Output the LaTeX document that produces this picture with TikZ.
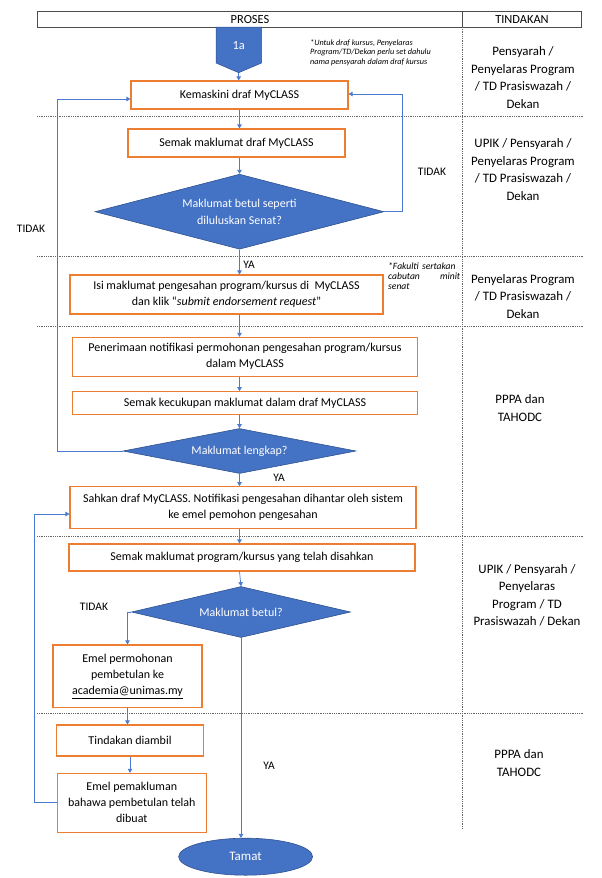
\documentclass[tikz,border=0pt]{standalone}
\usepackage{fontspec}
\setmainfont{Carlito}
\usetikzlibrary{positioning,arrows.meta,shapes.geometric,calc}
\definecolor{boxorange}{HTML}{ED7D31}
\definecolor{flowblue}{HTML}{4472C4}
\definecolor{flowdark}{HTML}{2F528F}
\definecolor{linkblue}{HTML}{4A7BD0}

\begin{document}
\begin{tikzpicture}[
  x=1pt, y=-1pt,
  proc/.style={draw=boxorange, line width=1.1pt, fill=white, align=center,
               font=\fontsize{12}{16}\selectfont, inner sep=2pt},
  dec/.style={diamond, draw=flowdark, line width=0.6pt, fill=flowblue, text=white,
              align=center, font=\fontsize{12}{16.5}\selectfont, inner sep=0pt},
  term/.style={ellipse, draw=flowdark, line width=0.6pt, fill=flowblue, text=white,
               font=\fontsize{13}{15}\selectfont},
  lbl/.style={font=\fontsize{11.5}{13}\selectfont},
  act/.style={align=center, font=\fontsize{12.9}{17.5}\selectfont},
  note/.style={font=\fontsize{8.2}{9.9}\selectfont\itshape, align=left, inner sep=0pt},
  ar/.style={-{Triangle[width=4.5pt,length=4pt]}, linkblue, line width=0.7pt},
  sep/.style={densely dotted, line width=0.8pt, black!60}
]
\useasboundingbox (0,0) rectangle (602,878);
\coordinate (col) at (239.5,0);

% table
\draw[line width=0.8pt, black!70] (37,11) rectangle (581,27);
\draw[line width=0.8pt, black!70] (462.5,11) -- (462.5,27);
\draw[sep] (462.5,27) -- (462.5,829);
\foreach \y in {116.7, 256.3, 326, 536, 713.3} \draw[sep] (37,\y) -- (584,\y);
\node[lbl, font=\fontsize{12.4}{14}\selectfont] (hproses) at (250,19.5) {PROSES};
\node[lbl, font=\fontsize{12.4}{14}\selectfont] (htindakan) at (522,19.5) {TINDAKAN};

% start connector
\fill[flowblue, draw=flowdark, line width=0.5pt] (216,27) -- (261.5,27) -- (261.5,63) -- (238.7,72.7) -- (216,63) -- cycle;
\node[lbl, text=white, font=\fontsize{12.4}{14}\selectfont] (start) at (238.7,46) {1a};
\coordinate (starttip) at (238.7,72.7);
\node[note, anchor=north west] (note1) at (310,39) {*Untuk draf kursus, Penyelaras\\Program/TD/Dekan perlu set dahulu\\nama pensyarah dalam draf kursus};

% process
\node[proc, minimum width=217pt, minimum height=28pt] (kem) at (239.5,95) {Kemaskini draf MyCLASS};
\node[proc, minimum width=217pt, minimum height=28pt] (semak1) at (236.5,143) {Semak maklumat draf MyCLASS};
\node[dec, shape aspect=3.85, minimum width=289pt, minimum height=75pt] (d1) at (239.5,211.7) {Maklumat betul seperti\\diluluskan Senat?};
\node[proc, minimum width=313pt, minimum height=39pt] (isi) at (226.5,294.5) {Isi maklumat pengesahan program/kursus di \ MyCLASS\\dan klik “\textit{submit endorsement request}”};
\node[note, font=\fontsize{9.6}{10.3}\selectfont\itshape, text width=72pt, anchor=north west] (note2) at (388,262) {\mbox{*Fakulti sertakan}\\cabutan\hfill minit\\senat};
\node[proc, minimum width=345pt, minimum height=38.7pt] (pen) at (245,356.7) {Penerimaan notifikasi permohonan pengesahan program/kursus\\dalam MyCLASS};
\node[proc, minimum width=345pt, minimum height=22.6pt] (cukup) at (245,403) {Semak kecukupan maklumat dalam draf MyCLASS};
\node[dec, shape aspect=5.2, minimum width=233pt, minimum height=45pt] (d2) at (239.5,451) {Maklumat lengkap?};
\node[proc, minimum width=346pt, minimum height=41.6pt] (sahkan) at (243,507.5) {Sahkan draf MyCLASS. Notifikasi pengesahan dihantar oleh sistem\\ke emel pemohon pengesahan};
\node[proc, minimum width=346pt, minimum height=27pt] (semak2) at (242,557.5) {Semak maklumat program/kursus yang telah disahkan};
\node[dec, shape aspect=4.3, minimum width=219pt, minimum height=51pt] (d3) at (241,612) {Maklumat betul?};
\node[proc, minimum width=149pt, minimum height=62.7pt] (emel) at (127.5,676.3) {Emel permohonan\\pembetulan ke\\\underline{academia@unimas.my}};
\node[proc, minimum width=147pt, minimum height=31pt] (tda) at (130,740.5) {Tindakan diambil};
\node[proc, minimum width=148.5pt, minimum height=58.7pt] (epm) at (131.8,802.7) {Emel pemakluman\\bahawa pembetulan telah\\dibuat};
\node[term, minimum width=134pt, minimum height=37pt] (tamat) at (245.6,856.7) {Tamat};

% labels
\node[lbl] (tidak1) at (432,172) {TIDAK};
\node[lbl] (tidak2) at (31,229) {TIDAK};
\node[lbl] (ya1) at (249,265) {YA};
\node[lbl] (ya2) at (279,478) {YA};
\node[lbl] (tidak3) at (94,607) {TIDAK};
\node[lbl] (ya3) at (269,766) {YA};

% tindakan
\node[act] (t1) at (523,77.5) {Pensyarah /\\Penyelaras Program\\/ TD Prasiswazah /\\Dekan};
\node[act] (t2) at (523,169.7) {UPIK / Pensyarah /\\Penyelaras Program\\/ TD Prasiswazah /\\Dekan};
\node[act] (t3) at (523,296.3) {Penyelaras Program\\/ TD Prasiswazah /\\Dekan};
\node[act] (t4) at (520,408) {PPPA dan\\TAHODC};
\node[act] (t5) at (527,595.3) {UPIK / Pensyarah /\\Penyelaras\\Program / TD\\Prasiswazah / Dekan};
\node[act] (t6) at (519,763.3) {PPPA dan\\TAHODC};

% connectors
\draw[ar] (starttip) -- (starttip |- kem.north);
\draw[ar] (col |- kem.south) -- (col |- semak1.north);
\draw[ar] (col |- semak1.south) -- (d1.north);
\draw[ar] (d1.south) -- (col |- isi.north);
\draw[ar] (col |- isi.south) -- (col |- pen.north);
\draw[ar] (col |- pen.south) -- (col |- cukup.north);
\draw[ar] (col |- cukup.south) -- (d2.north);
\draw[ar] (d2.south) -- (col |- sahkan.north);
\draw[ar] (col |- sahkan.south) -- (col |- semak2.north);
\draw[ar] (col |- semak2.south) -- (d3.north);
\draw[ar] (d1.east) -- ++(18,0) |- ([yshift=1pt]kem.east);
\draw[ar] (d2.west) -- ++(-65,0) |- ([yshift=-4pt]kem.west);
\draw[ar] (d3.west) -| (emel.north);
\draw[ar] (emel.south) -- (emel.south |- tda.north);
\draw[ar] (tda.south) -- (tda.south |- epm.north);
\draw[ar] (epm.west) -- ++(-23,0) |- ([yshift=-6.5pt]sahkan.west);
\draw[ar] (d3.south) -- (d3.south |- tamat.north);
\end{tikzpicture}
\end{document}
